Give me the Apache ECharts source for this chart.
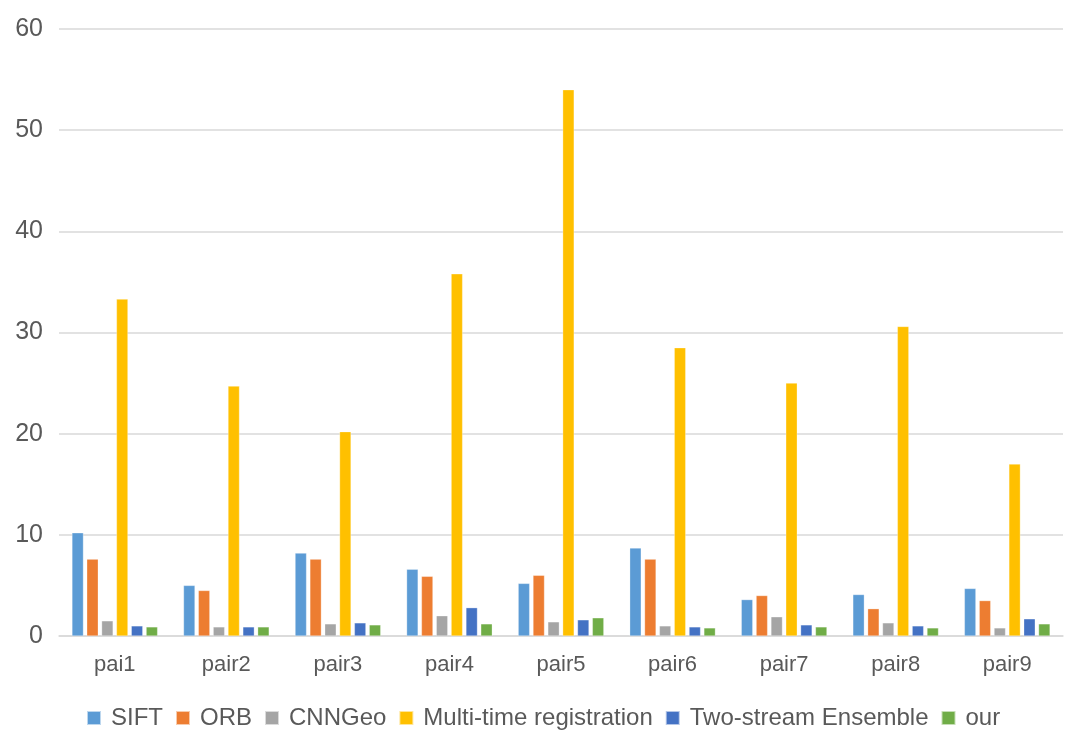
<!DOCTYPE html>
<html><head><meta charset="utf-8">
<script src="https://cdn.jsdelivr.net/npm/echarts@6/dist/echarts.min.js"></script>
<style>html,body{margin:0;padding:0;background:#fff}#c{width:1080px;height:741px}</style>
</head><body><div id="c"></div>
<script>
const categories = ['pai1','pair2','pair3','pair4','pair5','pair6','pair7','pair8','pair9'];
const seriesNames = ['SIFT','ORB','CNNGeo','Multi-time registration','Two-stream Ensemble','our'];
const sift  = [10.2, 5.0, 8.2, 6.6, 5.2, 8.7, 3.6, 4.1, 4.7];
const orb   = [7.6, 4.5, 7.6, 5.9, 6.0, 7.6, 4.0, 2.7, 3.5];
const cnngeo= [1.5, 0.9, 1.2, 2.0, 1.4, 1.0, 1.9, 1.3, 0.8];
const multi = [33.3, 24.7, 20.2, 35.8, 54.0, 28.5, 25.0, 30.6, 17.0];
const two   = [1.0, 0.9, 1.3, 2.8, 1.6, 0.9, 1.1, 1.0, 1.7];
const our   = [0.9, 0.9, 1.1, 1.2, 1.8, 0.8, 0.9, 0.8, 1.2];
const yTicks = [0, 10, 20, 30, 40, 50, 60];
const colors = ['#5B9BD5','#ED7D31','#A5A5A5','#FFC000','#4472C4','#70AD47'];
const data = [sift, orb, cnngeo, multi, two, our];

const chart = echarts.init(document.getElementById('c'));
const font = 'Liberation Sans, Arial, sans-serif';
chart.setOption({
  animation: false,
  color: colors,
  grid: {left: 59, right: 17, top: 29, bottom: 105, containLabel: false},
  legend: {
    top: 706, left: 86, padding: 0, itemWidth: 14, itemHeight: 14, itemGap: 12,
    icon: 'rect',
    textStyle: {fontFamily: font, fontSize: 24, color: '#595959', padding: [0,0,0,5]},
    data: seriesNames
  },
  xAxis: {
    type: 'category', data: categories,
    axisLine: {lineStyle: {color: '#d9d9d9', width: 1.5}},
    axisTick: {show: false},
    axisLabel: {fontFamily: font, fontSize: 22, color: '#595959', margin: 18}
  },
  yAxis: {
    type: 'value', min: yTicks[0], max: yTicks[yTicks.length-1], interval: 10,
    axisLine: {show: false}, axisTick: {show: false},
    splitLine: {lineStyle: {color: '#d9d9d9', width: 1.5}},
    axisLabel: {fontFamily: font, fontSize: 25, color: '#595959', margin: 16}
  },
  series: seriesNames.map((n, i) => ({
    name: n, type: 'bar', data: data[i], barWidth: 11.5, barGap: '29%',
    itemStyle: {color: colors[i], borderColor: 'rgba(255,255,255,0.6)', borderWidth: 0.5}
  }))
});
</script></body></html>
